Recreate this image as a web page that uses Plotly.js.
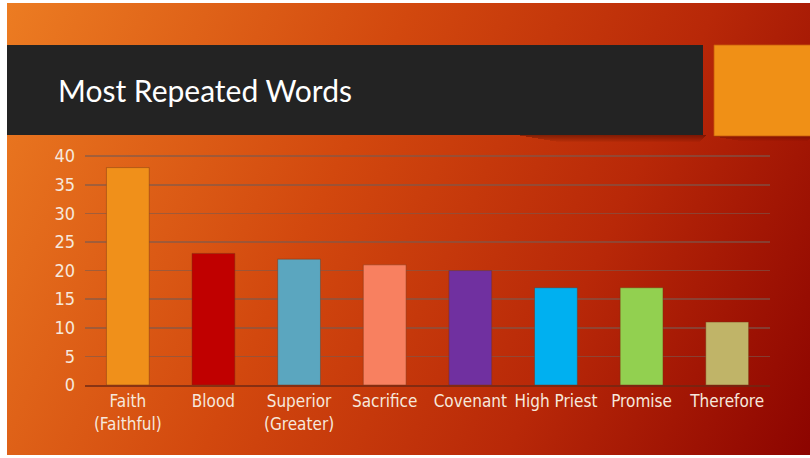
<!DOCTYPE html>
<html>
<head>
<meta charset="utf-8">
<script src="https://cdn.plot.ly/plotly-3.0.1.min.js"></script>
<style>
  html, body { margin:0; padding:0; background:#ffffff; }
  #wrap { position:relative; width:810px; height:458px; overflow:hidden; background:#ffffff; }
  #slide { position:absolute; left:7px; top:3px; width:803px; height:452px;
    background: linear-gradient(115deg, #EC7C22 0%, #D2480E 40%, #B82808 70%, #8C0400 100%); }
  #chart { position:absolute; left:0; top:0; width:810px; height:458px; }
</style>
</head>
<body>
<div id="wrap">
  <div id="slide"></div>
  <div id="chart"></div>
</div>
<script>
const categories = ["Faith<br>(Faithful)", "Blood", "Superior<br>(Greater)", "Sacrifice", "Covenant", "High Priest", "Promise", "Therefore"];
const counts = [38, 23, 22, 21, 20, 17, 17, 11];
const barColors = ["#F0901A", "#C00000", "#5BA6BF", "#F88060", "#7030A0", "#00B0F0", "#92D050", "#C0B468"];
const yTicks = [0, 5, 10, 15, 20, 25, 30, 35, 40];
const chartTitle = "Most Repeated Words";

const W = 810, H = 458;
const M = { l: 85, r: 40, t: 155, b: 73 };
const pw = W - M.l - M.r, ph = H - M.t - M.b;
const px = x => (x - M.l) / pw;
const py = y => (H - M.b - y) / ph;
const tickFamily = "'Liberation Sans Narrow', 'DejaVu Sans Condensed', 'Open Sans', sans-serif";

const trace = {
  type: "bar",
  x: categories,
  y: counts,
  marker: { color: barColors, line: { color: "rgba(120,50,20,0.45)", width: 1 } },
  hoverinfo: "none"
};

function shadow(x0, x1, y0, steps, alpha) {
  const out = [];
  for (let i = 0; i < steps; i++) {
    out.push({ type: "rect", xref: "paper", yref: "paper", layer: "below",
      x0: px(x0 + i * 6), x1: px(x1 - i), y0: py(y0 + i + 1), y1: py(y0 + i),
      fillcolor: "rgba(60,8,0," + (alpha * (1 - i / steps)).toFixed(3) + ")", line: { width: 0 } });
  }
  return out;
}

const layout = {
  width: W, height: H,
  margin: M,
  paper_bgcolor: "rgba(0,0,0,0)",
  plot_bgcolor: "rgba(0,0,0,0)",
  showlegend: false,
  bargap: 0.5,
  font: { family: tickFamily, color: "#F6E8DC" },
  title: {
    text: chartTitle,
    xref: "container", yref: "container",
    x: 58 / W, xanchor: "left",
    y: 1 - 91 / H, yanchor: "middle",
    font: { family: "Lato, sans-serif", size: 30, color: "#FFFFFF" }
  },
  xaxis: {
    type: "category",
    tickfont: { family: tickFamily, size: 17, color: "#F6E8DC" },
    showgrid: false, zeroline: false,
    showline: true, linecolor: "rgba(110,40,20,0.75)", linewidth: 2,
    ticks: "", fixedrange: true
  },
  yaxis: {
    range: [0, 40.2],
    tickvals: yTicks,
    tickfont: { family: tickFamily, size: 18, color: "#F6E8DC" },
    showgrid: true, gridcolor: "rgba(120,90,80,0.6)", gridwidth: 1.5,
    zeroline: false, showline: false, ticks: "",
    ticklabelstandoff: 9, fixedrange: true
  },
  shapes: [
    ...shadow(520, 706, 135, 7, 0.45),
    ...shadow(714, 812, 136, 5, 0.3),
    { type: "rect", xref: "paper", yref: "paper", layer: "below",
      x0: px(7), x1: px(703), y0: py(135), y1: py(45),
      fillcolor: "#232323", line: { width: 0 } },
    { type: "rect", xref: "paper", yref: "paper", layer: "below",
      x0: px(714), x1: px(812), y0: py(136), y1: py(45),
      fillcolor: "#F09016", line: { color: "rgba(200,90,10,0.8)", width: 1 } }
  ]
};

Plotly.newPlot("chart", [trace], layout, { displayModeBar: false, staticPlot: true });
</script>
</body>
</html>
